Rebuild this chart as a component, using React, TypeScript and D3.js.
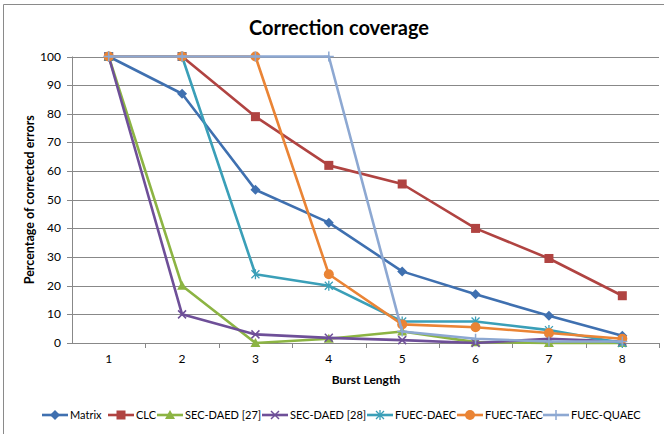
import React from "react";
import * as d3 from "d3";

const categories = ["1", "2", "3", "4", "5", "6", "7", "8"];
const yTicks = [0, 10, 20, 30, 40, 50, 60, 70, 80, 90, 100];

const seriesNames = ["Matrix", "CLC", "SEC-DAED [27]", "SEC-DAED [28]", "FUEC-DAEC", "FUEC-TAEC", "FUEC-QUAEC"];
const matrix = [100, 87, 53.5, 42, 25, 17, 9.5, 2.5];
const clc = [100, 100, 79, 62, 55.5, 40, 29.5, 16.5];
const secDaed27 = [100, 20, 0, 1.5, 4, 0.3, 0, 0];
const secDaed28 = [100, 10, 3, 1.8, 1, 0, 1.5, 0.5];
const fuecDaec = [100, 100, 24, 20, 7.5, 7.5, 4.5, 0];
const fuecTaec = [100, 100, 100, 24, 6.5, 5.5, 3.5, 1.5];
const fuecQuaec = [100, 100, 100, 100, 4, 1.5, 0.5, 0.5];
const seriesValues = [matrix, clc, secDaed27, secDaed28, fuecDaec, fuecTaec, fuecQuaec];

const colors = ["#3f70b0", "#b04341", "#8cb443", "#6e4f98", "#3a9fb8", "#ea8435", "#8da8d2"];
const markers = ["diamond", "square", "triangle", "x", "star", "circle", "plus"];

const FONT = "Lato, 'Open Sans', sans-serif";

function Marker({ type, x, y, color }: { type: string; x: number; y: number; color: string }) {
  switch (type) {
    case "diamond":
      return <path d={`M${x},${y - 5}L${x + 5},${y}L${x},${y + 5}L${x - 5},${y}Z`} fill={color} />;
    case "square":
      return <rect x={x - 4.5} y={y - 4.5} width={9} height={9} fill={color} />;
    case "triangle":
      return <path d={`M${x},${y - 5}L${x + 5},${y + 4}L${x - 5},${y + 4}Z`} fill={color} />;
    case "x":
      return <path d={`M${x - 4},${y - 4}L${x + 4},${y + 4}M${x + 4},${y - 4}L${x - 4},${y + 4}`} stroke={color} strokeWidth={1.5} />;
    case "star":
      return (
        <path
          d={`M${x - 4},${y - 4}L${x + 4},${y + 4}M${x + 4},${y - 4}L${x - 4},${y + 4}M${x},${y - 5}L${x},${y + 5}`}
          stroke={color}
          strokeWidth={1.3}
        />
      );
    case "circle":
      return <circle cx={x} cy={y} r={5} fill={color} />;
    case "plus":
      return <path d={`M${x},${y - 5}L${x},${y + 5}M${x - 5},${y}L${x + 5},${y}`} stroke={color} strokeWidth={1.5} />;
    default:
      return null;
  }
}

export default function App() {
  const W = 664;
  const H = 434;
  const left = 72;
  const right = 659;
  const top = 56.5;
  const bottom = 343;

  const x = d3.scaleBand<string>().domain(categories).range([left, right]);
  const y = d3.scaleLinear().domain([0, 100]).range([bottom, top]);
  const cx = (c: string) => (x(c) as number) + x.bandwidth() / 2;

  const line = d3
    .line<number>()
    .x((_, i) => cx(categories[i]))
    .y((d) => y(d));

  const legendX = [42, 108, 157, 262, 367, 457, 543];
  const legendY = 415;

  return (
    <svg width={W} height={H} style={{ position: "absolute", left: 0, top: 0 }}>
      <rect x={0} y={0} width={W} height={H} fill="#fff" />
      <path d={`M3.5,${H}L3.5,4.5L${W},4.5`} fill="none" stroke="#8a8a8a" strokeWidth={1} />
      <text x={339} y={35} textAnchor="middle" fontFamily={FONT} fontWeight="bold" fontSize={20} fill="#000">
        Correction coverage
      </text>
      {yTicks.map((t) => (
        <g key={t}>
          <line x1={left - 5} x2={right} y1={Math.round(y(t)) + 0.5} y2={Math.round(y(t)) + 0.5} stroke="#888" strokeWidth={1} />
          <text x={61} y={y(t) + 4} textAnchor="end" fontFamily={FONT} fontSize={12} fill="#000">
            {t}
          </text>
        </g>
      ))}
      <line x1={left + 0.5} x2={left + 0.5} y1={top} y2={bottom} stroke="#888" />
      {categories.map((c) => (
        <g key={c}>
          <line x1={Math.round((x(c) as number) + x.bandwidth()) + 0.5} x2={Math.round((x(c) as number) + x.bandwidth()) + 0.5} y1={bottom} y2={bottom + 5} stroke="#888" />
          <text x={cx(c)} y={bottom + 20} textAnchor="middle" fontFamily={FONT} fontSize={12} fill="#000">
            {c}
          </text>
        </g>
      ))}
      <text x={366} y={384} textAnchor="middle" fontFamily={FONT} fontWeight="bold" fontSize={12} fill="#000">
        Burst Length
      </text>
      <text
        transform={`translate(34,${(top + bottom) / 2}) rotate(-90)`}
        textAnchor="middle"
        fontFamily={FONT}
        fontWeight="bold"
        fontSize={12.5}
        fill="#000"
      >
        Percentage of corrected errors
      </text>
      {seriesValues.map((vals, si) => (
        <g key={si}>
          <path d={line(vals) || ""} fill="none" stroke={colors[si]} strokeWidth={2.6} strokeLinejoin="round" />
          {vals.map((v, i) => (
            <Marker key={i} type={markers[si]} x={cx(categories[i])} y={y(v)} color={colors[si]} />
          ))}
        </g>
      ))}
      {seriesNames.map((n, i) => (
        <g key={n}>
          <line x1={legendX[i]} x2={legendX[i] + 26} y1={legendY} y2={legendY} stroke={colors[i]} strokeWidth={2.6} />
          <Marker type={markers[i]} x={legendX[i] + 13} y={legendY} color={colors[i]} />
          <text x={legendX[i] + 28} y={legendY + 4} fontFamily={FONT} fontSize={11} fill="#000">
            {n}
          </text>
        </g>
      ))}
    </svg>
  );
}
